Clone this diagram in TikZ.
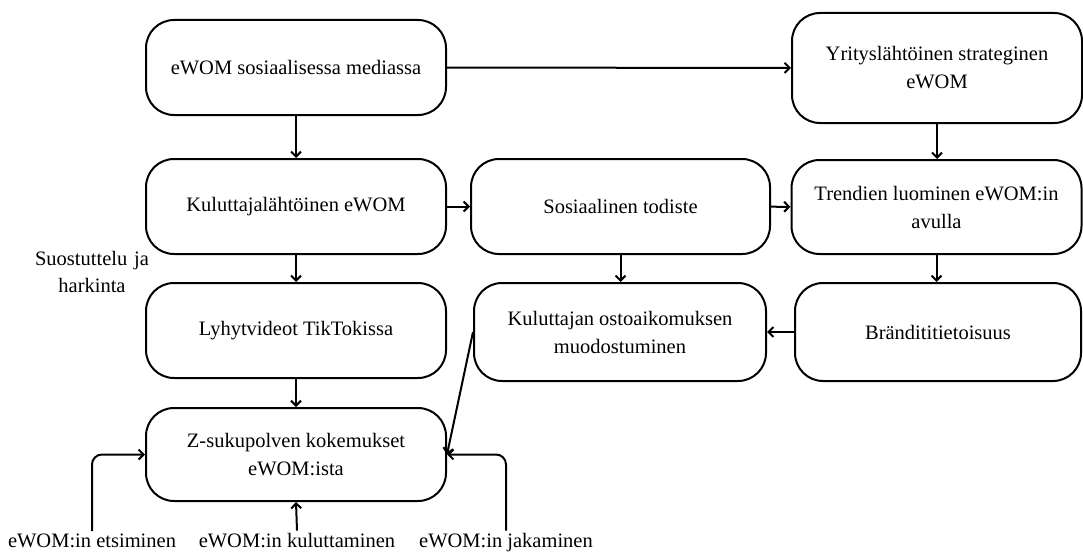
\documentclass[tikz,border=0pt]{standalone}
\usepackage{fontspec}
\setmainfont{Liberation Serif}
\usetikzlibrary{calc}
\usetikzlibrary{arrows.meta}
\tikzset{>={Straight Barb[length=5pt,width=10pt]}}
\tikzset{box/.style={draw,line width=2pt,rounded corners=28pt,fill=white,
    align=center,inner sep=0pt,font=\fontsize{20.5}{28}\selectfont},
  txt/.style={align=center,inner sep=2pt,font=\fontsize{20.5}{27}\selectfont},
  conn/.style={->,line width=2pt}}

\begin{document}
\begin{tikzpicture}[x=1pt,y=-1pt]
    \useasboundingbox (0,0) rectangle (1083,551);

    \coordinate (c1) at (296, 67.5);
    \coordinate (c2) at (937, 68);
    \coordinate (c3) at (296, 206.5);
    \coordinate (c4) at (620.5, 206.5);
    \coordinate (c5) at (936.5, 207);
    \coordinate (c6) at (296, 330.5);
    \coordinate (c7) at (620, 332);
    \coordinate (c8) at (938, 332);
    \coordinate (c9) at (296, 454.5);

    \node [box,minimum width=300pt,minimum height=95pt] (sosmedia) at (c1)
    {eWOM sosiaalisessa mediassa};

    \node [box,minimum width=290pt,minimum height=110pt] (yritys) at (c2)
    {Yrityslähtöinen strateginen\\eWOM};

    \node [box,minimum width=300pt,minimum height=95pt] (kuluttaja) at (c3)
    {Kuluttajalähtöinen eWOM};

    \node [box,minimum width=299pt,minimum height=95pt] (todiste) at (c4)
    {Sosiaalinen todiste};

    \node [box,minimum width=290pt,minimum height=94pt] (trendit) at (c5)
    {Trendien luominen eWOM:in\\avulla};

    \node [box,minimum width=300pt,minimum height=95pt] (tiktok) at (c6)
    {Lyhytvideot TikTokissa};

    \node [box,minimum width=292pt,minimum height=98pt] (ostoaik) at (c7)
    {Kuluttajan ostoaikomuksen\\muodostuminen};

    \node [box,minimum width=286pt,minimum height=98pt] (brandi) at (c8)
    {Brändititietoisuus};

    \node [box,minimum width=300pt,minimum height=93pt] (zsuku) at (c9)
    {Z-sukupolven kokemukset\\eWOM:ista};

    \node [txt,text width=130pt,anchor=base] (harkinta) at (92, 265)
    {Suostuttelu ja\\harkinta};

    \node [txt,anchor=base] (etsiminen) at (92, 547) {eWOM:in etsiminen};
    \node [txt,anchor=base] (kuluttaminen) at (297, 547) {eWOM:in kuluttaminen};
    \node [txt,anchor=base] (jakaminen) at (506, 547) {eWOM:in jakaminen};

    \draw [conn] (sosmedia) -- (yritys);
    \draw [conn] (sosmedia) -- (kuluttaja);
    \draw [conn] (yritys.south) -- (yritys.south |- trendit.north);
    \draw [conn] (kuluttaja) -- (todiste);
    \draw [conn] (todiste) -- (trendit);
    \draw [conn] (kuluttaja) -- (tiktok);
    \draw [conn] (todiste.south) -- (todiste.south |- ostoaik.north);
    \draw [conn] (trendit.south) -- (trendit.south |- brandi.north);
    \draw [conn] (brandi) -- (ostoaik);
    \draw [conn] (tiktok) -- (zsuku);
    \draw [conn] (ostoaik.west) -- (zsuku.east);

    \draw [conn,rounded corners=10pt] (etsiminen.north) |- (zsuku.west);
    \draw [conn] (kuluttaminen.north) -- (zsuku.south);
    \draw [conn,rounded corners=10pt] (jakaminen.north) |- (zsuku.east);
  \end{tikzpicture}
\end{document}
